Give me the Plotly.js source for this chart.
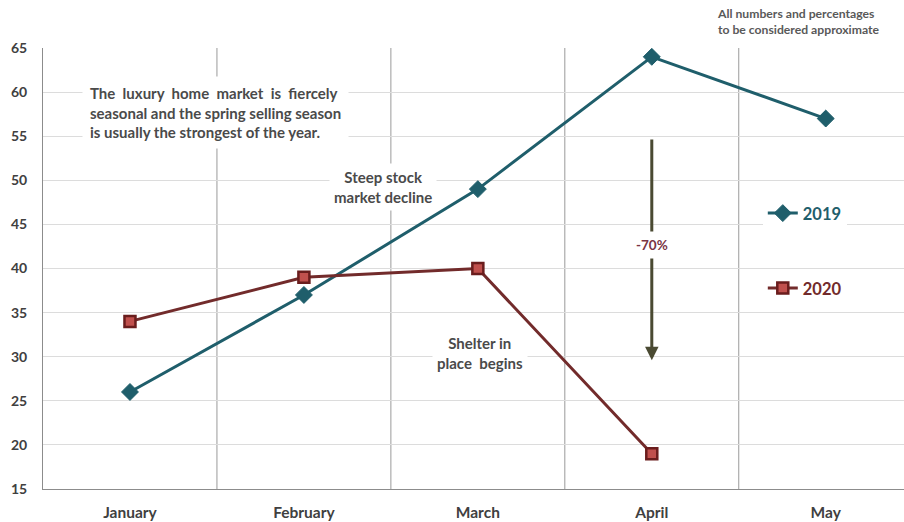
<!DOCTYPE html>
<html>
<head>
<meta charset="utf-8">
<script src="https://cdn.plot.ly/plotly-3.0.1.min.js"></script>
<style>
  html, body { margin: 0; padding: 0; background: #ffffff; }
  #chart { width: 904px; height: 522px; }
</style>
</head>
<body>
<div id="chart"></div>
<script>
// Monthly luxury home sales, 2019 vs 2020
const months = ['January', 'February', 'March', 'April', 'May'];
const sales2019 = [26, 37, 49, 64, 57];
const sales2020 = [34, 39, 40, 19];
const yTicks = [15, 20, 25, 30, 35, 40, 45, 50, 55, 60, 65];

const teal = '#1f5e6b';
const maroon = '#722b2b';
const textGray = '#4a4a4a';
const FONT = 'Lato, "Open Sans", sans-serif';

const traces = [
  {
    type: 'scatter', mode: 'lines+markers', name: '2019',
    x: months, y: sales2019,
    line: { color: teal, width: 3 },
    marker: { symbol: 'diamond', size: 13, color: teal, line: { color: teal, width: 1 } },
    legend: 'legend'
  },
  {
    type: 'scatter', mode: 'lines+markers', name: '2020',
    x: months.slice(0, sales2020.length), y: sales2020,
    line: { color: maroon, width: 3 },
    marker: { symbol: 'square', size: 11, color: '#c0504d', line: { color: '#6a1d1d', width: 2.5 } },
    legend: 'legend2'
  }
];

// vertical separators between month columns
const separators = months.slice(1).map((m, i) => ({
  type: 'line', xref: 'x', yref: 'paper', layer: 'below',
  x0: i + 0.5, x1: i + 0.5, y0: 0, y1: 1,
  line: { color: '#9a9a9a', width: 1 }
}));

const boxFont = { family: FONT, size: 15, color: textGray, weight: 'bold' };

const layout = {
  width: 904, height: 522,
  margin: { l: 43, r: 0, t: 48, b: 33 },
  paper_bgcolor: '#ffffff', plot_bgcolor: '#ffffff',
  font: { family: FONT, color: textGray },
  showlegend: true,
  xaxis: {
    type: 'category', range: [-0.5, 4.45],
    showgrid: false, zeroline: false,
    showline: true, linecolor: '#8c8c8c', linewidth: 1,
    ticks: '', ticklabelstandoff: 9,
    tickfont: { family: FONT, size: 15.5, color: '#404040', weight: 'bold' }
  },
  yaxis: {
    range: [15, 65], tickvals: yTicks,
    showgrid: true, gridcolor: '#dcdcdc', gridwidth: 1,
    zeroline: false,
    showline: true, linecolor: '#8c8c8c', linewidth: 1,
    ticks: '', ticklabelstandoff: 12,
    tickfont: { family: FONT, size: 14, color: '#404040', weight: 'bold' }
  },
  legend: {
    x: 0.836, y: 0.625, xanchor: 'left', yanchor: 'middle',
    bgcolor: '#ffffff', borderwidth: 0, itemwidth: 30,
    font: { family: FONT, size: 16.5, color: teal, weight: 'bold' }
  },
  legend2: {
    x: 0.836, y: 0.455, xanchor: 'left', yanchor: 'middle',
    bgcolor: '#ffffff', borderwidth: 0, itemwidth: 30,
    font: { family: FONT, size: 16.5, color: maroon, weight: 'bold' }
  },
  shapes: separators,
  annotations: [
    {
      xref: 'x', yref: 'y', x: 0.49, y: 57.7,
      text: 'The  luxury  home  market  is  fiercely<br>seasonal and the spring selling season<br>is usually the strongest of the year.',
      showarrow: false, align: 'left', bgcolor: '#ffffff', borderpad: 7,
      font: boxFont
    },
    {
      xref: 'x', yref: 'y', x: 1.455, y: 49.2,
      text: 'Steep stock<br>market decline',
      showarrow: false, align: 'center', bgcolor: '#ffffff', borderpad: 4,
      font: boxFont
    },
    {
      xref: 'x', yref: 'y', x: 2.01, y: 30.4,
      text: 'Shelter in<br>place  begins',
      showarrow: false, align: 'center', bgcolor: '#ffffff', borderpad: 4,
      font: boxFont
    },
    {
      xref: 'x', yref: 'y', axref: 'x', ayref: 'y',
      x: 3, y: 29.6, ax: 3, ay: 54.8,
      text: '', showarrow: true,
      arrowhead: 2, arrowsize: 0.9, arrowwidth: 3, arrowcolor: '#4a4a32'
    },
    {
      xref: 'x', yref: 'y', x: 3, y: 42.7,
      text: '-70%', showarrow: false, bgcolor: '#ffffff', borderpad: 5,
      font: { family: FONT, size: 13.5, color: '#7a3444', weight: 'bold' }
    },
    {
      xref: 'paper', yref: 'paper', x: 0.78, y: 1.06,
      xanchor: 'left', yanchor: 'middle',
      text: 'All numbers and percentages<br>to be considered approximate',
      showarrow: false, align: 'left',
      font: { family: FONT, size: 12.2, color: '#595959', weight: 'bold' }
    }
  ]
};

Plotly.newPlot('chart', traces, layout, { displayModeBar: false, staticPlot: true });
</script>
</body>
</html>
